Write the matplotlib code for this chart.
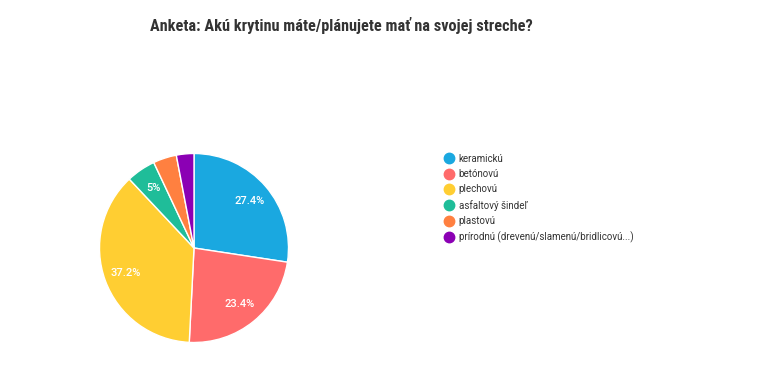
import matplotlib

matplotlib.use("Agg")
import matplotlib.pyplot as plt  # noqa: E402
from matplotlib.lines import Line2D  # noqa: E402

TITLE = "Anketa: Akú krytinu máte/plánujete mať na svojej streche?"
labels = [
    "keramickú",
    "betónovú",
    "plechovú",
    "asfaltový šindeľ",
    "plastovú",
    "prírodnú (drevenú/slamenú/bridlicovú...)",
]
shares = [27.4, 23.4, 37.2, 5.0, 4.0, 3.0]
colors = ["#1aa8e0", "#ff6b6b", "#ffce32", "#1fbd99", "#ff8040", "#8b00b4"]

plt.rcParams["font.family"] = ["Roboto", "DejaVu Sans"]

W, H = 768, 373
fig = plt.figure(figsize=(W / 100, H / 100), dpi=100)
fig.patch.set_facecolor("white")

cx, cy, r = 194, 248, 94.5
ax = fig.add_axes([(cx - r) / W, (H - cy - r) / H, 2 * r / W, 2 * r / H])
wedges, _, autotexts = ax.pie(
    shares,
    colors=colors,
    startangle=90,
    counterclock=False,
    autopct=lambda p: f"{p:.1f}%".replace(".0%", "%") if p >= 4.5 else "",
    pctdistance=0.77,
    wedgeprops=dict(edgecolor="white", linewidth=1.0),
    textprops=dict(color="white", fontsize=8, fontweight="medium"),
)
ax.set_xlim(-1, 1)
ax.set_ylim(-1, 1)
ax.set_aspect("equal")

handles = [
    Line2D([0], [0], marker="o", linestyle="", markersize=7.5, markerfacecolor=c, markeredgecolor=c)
    for c in colors
]
fig.legend(
    handles,
    labels,
    loc="upper left",
    bbox_to_anchor=(433 / W, 1 - 145 / H),
    frameon=False,
    fontsize=7.0,
    handletextpad=0.35,
    labelspacing=0.55,
    handlelength=1.4,
    labelcolor="#333333",
)

fig.text(341 / W, 1 - 26 / H, TITLE, ha="center", va="center", fontsize=11.7,
         fontweight="bold", family=["Roboto Condensed", "Roboto", "DejaVu Sans"], color="#333333")

fig.savefig("out.png", dpi=100)
